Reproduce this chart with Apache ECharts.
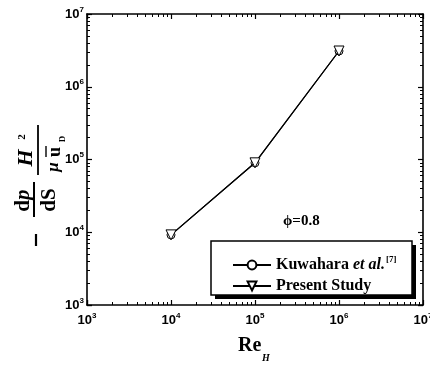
<!DOCTYPE html>
<html>
<head>
<meta charset="utf-8">
<script src="https://cdn.jsdelivr.net/npm/echarts@6/dist/echarts.min.js"></script>
<style>
    html, body { margin: 0; padding: 0; background: #fff; }
    #chart { width: 430px; height: 367px; }
</style>
</head>
<body>
<div id="chart"></div>
<script>
// data
var reH = [1e4, 1e5, 1e6];
var presentStudy = [9200, 90000, 3100000];
var kuwahara = [9200, 90000, 3100000];
var xMin = 1e3, xMax = 1e7;
var yMin = 1e3, yMax = 1e7;
var phiText = "\u03d5=0.8";

var serif = "Liberation Serif";
var sans = "Liberation Sans";

function pairs(xs, ys) {
    var out = [];
    for (var i = 0; i < xs.length; i++) out.push([xs[i], ys[i]]);
    return out;
}

function powLabel(v) {
    return "{b|10}{s|" + Math.round(Math.log10(v)) + "}";
}

var labelRich = {
    b: { fontFamily: sans, fontWeight: "bold", fontSize: 13, color: "#000" },
    s: { fontFamily: sans, fontWeight: "bold", fontSize: 8, color: "#000", padding: [0, 0, 9, 0] }
};

function logAxis(pos, min, max, showLabel) {
    return {
        type: "log",
        logBase: 10,
        position: pos,
        min: min,
        max: max,
        axisLine: { show: true, onZero: false, lineStyle: { color: "#000", width: 1.6 } },
        axisTick: { show: true, inside: true, length: 5, lineStyle: { color: "#000", width: 1.2 } },
        minorTick: { show: true, splitNumber: 9, length: 3, lineStyle: { color: "#000", width: 1 } },
        splitLine: { show: false },
        axisLabel: {
            show: showLabel,
            formatter: powLabel,
            rich: labelRich,
            margin: pos === "bottom" ? 7 : 3
        }
    };
}

var chart = echarts.init(document.getElementById("chart"));

var symStyle = { color: "#fff", borderColor: "#000", borderWidth: 1 };

var option = {
    backgroundColor: "#fff",
    animation: false,
    grid: { left: 87, top: 14, right: 7, bottom: 62, containLabel: false, outerBoundsMode: "none" },
    xAxis: [
        logAxis("bottom", xMin, xMax, true),
        logAxis("top", xMin, xMax, false)
    ],
    yAxis: [
        logAxis("left", yMin, yMax, true),
        logAxis("right", yMin, yMax, false)
    ],
    legend: {
        orient: "vertical",
        left: 227,
        top: 250,
        itemWidth: 38,
        itemHeight: 11,
        itemGap: 5,
        z: 10,
        data: ["Kuwahara et al.", "Present Study"],
        formatter: function(name) {
            if (name === "Kuwahara et al.") return "{n|Kuwahara }{i|et al.}{s|[7]}";
            return "{n|Present Study}";
        },
        textStyle: {
            rich: {
                n: { fontFamily: serif, fontWeight: "bold", fontSize: 16, color: "#000" },
                i: { fontFamily: serif, fontWeight: "bold", fontStyle: "italic", fontSize: 16, color: "#000" },
                s: { fontFamily: serif, fontWeight: "bold", fontSize: 9, color: "#000", padding: [0, 0, 11, 1] }
            }
        }
    },
    series: [{
        name: "Kuwahara et al.",
        type: "line",
        data: pairs(reH, kuwahara),
        symbol: "circle",
        symbolSize: 8,
        lineStyle: { color: "#000", width: 1.2 },
        itemStyle: symStyle,
        color: "#000",
        z: 3
    }, {
        name: "Present Study",
        type: "line",
        data: pairs(reH, presentStudy),
        symbol: "triangle",
        symbolRotate: 180,
        symbolSize: 10,
        lineStyle: { color: "#000", width: 1.2 },
        itemStyle: symStyle,
        color: "#000",
        z: 4
    }],
    graphic: [
        // legend frame with its drop shadow
        { type: "rect", z: 1, shape: { x: 215, y: 245, width: 201, height: 54 }, style: { fill: "#000" } },
        { type: "rect", z: 2, shape: { x: 211, y: 241, width: 201, height: 54 }, style: { fill: "#fff", stroke: "#000", lineWidth: 1.5 } },
        { type: "text", x: 283, y: 214, style: { text: phiText, font: "bold 15px '" + serif + "'", fill: "#000" } },
        // x axis title
        { type: "text", x: 238, y: 336, style: { text: "Re", font: "bold 20px '" + serif + "'", fill: "#000" } },
        { type: "text", x: 262, y: 353, style: { text: "H", font: "bold italic 10px '" + serif + "'", fill: "#000" } },
        // y axis title, rotated to read bottom to top
        {
            type: "group",
            x: 34,
            y: 240,
            rotation: Math.PI / 2,
            children: [
                { type: "line", shape: { x1: -6, y1: 2, x2: 6, y2: 2 }, style: { stroke: "#000", lineWidth: 2.2 } },
                { type: "text", x: 40, y: -10, style: { text: "d", font: "bold 21px '" + serif + "'", fill: "#000", align: "right", verticalAlign: "middle" } },
                { type: "text", x: 40, y: -10, style: { text: "p", font: "bold italic 21px '" + serif + "'", fill: "#000", align: "left", verticalAlign: "middle" } },
                { type: "line", shape: { x1: 23, y1: 0, x2: 58, y2: 0 }, style: { stroke: "#000", lineWidth: 2 } },
                { type: "text", x: 40, y: 16, style: { text: "dS", font: "bold 21px '" + serif + "'", fill: "#000", align: "center", verticalAlign: "middle" } },
                { type: "text", x: 82, y: -8, style: { text: "H", font: "bold italic 22px '" + serif + "'", fill: "#000", align: "center", verticalAlign: "middle" } },
                { type: "text", x: 103, y: -12, style: { text: "2", font: "bold 11px '" + serif + "'", fill: "#000", align: "center", verticalAlign: "middle" } },
                { type: "line", shape: { x1: 65, y1: 4, x2: 115, y2: 4 }, style: { stroke: "#000", lineWidth: 1.8 } },
                { type: "text", x: 73, y: 20, style: { text: "\u03bc", font: "bold italic 17px '" + serif + "'", fill: "#000", align: "center", verticalAlign: "middle" } },
                { type: "text", x: 88, y: 21, style: { text: "u", font: "bold 18px '" + serif + "'", fill: "#000", align: "center", verticalAlign: "middle" } },
                { type: "line", shape: { x1: 83, y1: 12, x2: 94, y2: 12 }, style: { stroke: "#000", lineWidth: 1.4 } },
                { type: "text", x: 101, y: 29, style: { text: "D", font: "bold 9px '" + serif + "'", fill: "#000", align: "center", verticalAlign: "middle" } }
            ]
        }
    ]
};

chart.setOption(option);
</script>
</body>
</html>
